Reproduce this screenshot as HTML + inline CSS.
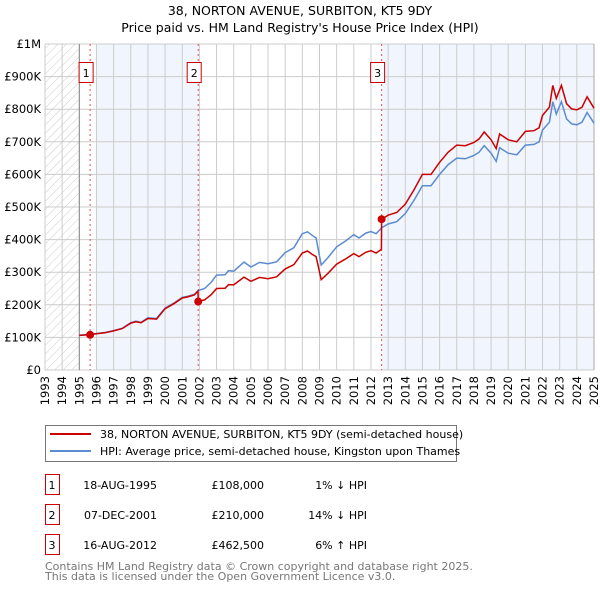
<!DOCTYPE html>
<html><head><meta charset="utf-8"><style>
body{margin:0;background:#fff;font-family:"DejaVu Sans","Liberation Sans",sans-serif;}
svg text{font-family:"DejaVu Sans","Liberation Sans",sans-serif;}
</style></head><body>
<svg id="chart" width="600" height="590" xmlns="http://www.w3.org/2000/svg">
<defs><pattern id="hatch" width="6" height="6" patternUnits="userSpaceOnUse" patternTransform="rotate(45)"><line x1="0" y1="0" x2="0" y2="6" stroke="#ccc" stroke-width="1"/></pattern></defs>
<text x="300" y="15" font-size="12.5" text-anchor="middle">38, NORTON AVENUE, SURBITON, KT5 9DY</text>
<text x="300" y="32" font-size="12.5" text-anchor="middle">Price paid vs. HM Land Registry's House Price Index (HPI)</text>
<g id="plot"></g>
<g>
<rect x="45.5" y="425.5" width="411" height="36" fill="#fff" stroke="#777"/>
<line x1="50" y1="434" x2="91" y2="434" stroke="#cc0000" stroke-width="2"/>
<text x="100" y="438" font-size="11">38, NORTON AVENUE, SURBITON, KT5 9DY (semi-detached house)</text>
<line x1="50" y1="451" x2="91" y2="451" stroke="#5b8bd0" stroke-width="2"/>
<text x="100" y="455" font-size="11">HPI: Average price, semi-detached house, Kingston upon Thames</text>
</g>
<g id="table" font-size="11"></g>
<text x="45" y="570" font-size="11" fill="#777">Contains HM Land Registry data © Crown copyright and database right 2025.</text>
<text x="45" y="580" font-size="11" fill="#777">This data is licensed under the Open Government Licence v3.0.</text>
</svg>
<script>
const hpiYears=[1995.0,1995.6,1996.0,1996.5,1997.0,1997.5,1998.0,1998.3,1998.6,1999.0,1999.5,2000.0,2000.5,2001.0,2001.3,2001.7,2001.93,2002.3,2002.7,2003.0,2003.5,2003.7,2004.0,2004.6,2005.0,2005.5,2006.0,2006.5,2007.0,2007.5,2008.0,2008.3,2008.6,2008.8,2009.1,2009.5,2010.0,2010.5,2011.0,2011.3,2011.7,2012.0,2012.3,2012.62,2013.0,2013.5,2014.0,2014.5,2015.0,2015.5,2016.0,2016.5,2017.0,2017.5,2018.0,2018.3,2018.6,2019.0,2019.3,2019.5,2020.0,2020.5,2021.0,2021.5,2021.8,2022.0,2022.4,2022.6,2022.8,2023.1,2023.4,2023.7,2024.0,2024.3,2024.6,2025.0];
const hpiValues=[107,109,112,115,121,128,145,150,146,160,158,190,205,223,226,232,244,250,270,291,292,305,303,331,316,330,326,332,360,375,418,424,412,405,322,345,378,395,415,405,420,425,418,436,448,455,480,520,565,565,600,630,650,648,658,668,688,665,640,682,665,660,690,692,700,736,760,823,785,823,770,755,752,760,790,757];
const priceYears=[1995.0,1995.6,1996.0,1996.5,1997.0,1997.5,1998.0,1998.3,1998.6,1999.0,1999.5,2000.0,2000.5,2001.0,2001.3,2001.7,2001.92,2001.93,2002.3,2002.7,2003.0,2003.5,2003.7,2004.0,2004.6,2005.0,2005.5,2006.0,2006.5,2007.0,2007.5,2008.0,2008.3,2008.6,2008.8,2009.1,2009.5,2010.0,2010.5,2011.0,2011.3,2011.7,2012.0,2012.3,2012.61,2012.62,2013.0,2013.5,2014.0,2014.5,2015.0,2015.5,2016.0,2016.5,2017.0,2017.5,2018.0,2018.3,2018.6,2019.0,2019.3,2019.5,2020.0,2020.5,2021.0,2021.5,2021.8,2022.0,2022.4,2022.6,2022.8,2023.1,2023.4,2023.7,2024.0,2024.3,2024.6,2025.0];
const priceValues=[106,108,111,114,120,127,144,148,145,158,156,188,203,221,224,230,242,210,215,232,250,251,262,261,285,272,284,280,286,310,323,359,365,354,348,277,297,325,340,357,348,361,366,359,370,462.5,475,483,509,552,600,600,637,668,690,688,698,709,730,706,679,724,706,700,732,734,743,781,806,873,833,873,817,801,798,806,838,803];
const saleYears=[1995.63,2001.93,2012.62];
const saleLabels=["1","2","3"];
const salePrices=[108,210,462.5];
const saleDates=["18-AUG-1995","07-DEC-2001","16-AUG-2012"];
const salePriceText=["£108,000","£210,000","£462,500"];
const saleDiffText=["1% ↓ HPI","14% ↓ HPI","6% ↑ HPI"];
const yTicks=[0,100,200,300,400,500,600,700,800,900,1000];
const yTickLabels=["£0","£100K","£200K","£300K","£400K","£500K","£600K","£700K","£800K","£900K","£1M"];
const xTicks=[1993,1994,1995,1996,1997,1998,1999,2000,2001,2002,2003,2004,2005,2006,2007,2008,2009,2010,2011,2012,2013,2014,2015,2016,2017,2018,2019,2020,2021,2022,2023,2024,2025];

const X0=45,X1=594,Y0=370,Y1=44;
const xs=y=>X0+(y-1993)/(2025-1993)*(X1-X0);
const ys=v=>Y0-v/1000*(Y0-Y1);
const NS="http://www.w3.org/2000/svg";
const plot=document.getElementById('plot');
function mk(tag,attrs,parent){const e=document.createElementNS(NS,tag);for(const k in attrs)e.setAttribute(k,attrs[k]);(parent||plot).appendChild(e);return e;}

let r=mk('rect',{x:xs(1993),y:Y1,width:xs(1995)-xs(1993),height:Y0-Y1,fill:'url(#hatch)'});


r=mk('rect',{x:xs(1996),y:Y1,width:xs(saleYears[1])-xs(1996),height:Y0-Y1,fill:'#eef3fc',opacity:0.8});


r=mk('rect',{x:xs(saleYears[2]),y:Y1,width:X1-xs(saleYears[2]),height:Y0-Y1,fill:'#eef3fc',opacity:0.8});



xTicks.forEach(t=>{
 const l=mk('line',{x1:xs(t),x2:xs(t),y1:Y1,y2:Y0,stroke:'#cccccc','stroke-width':1});
 
 
 const tx=mk('text',{x:0,y:0,'font-size':11.5,'text-anchor':'end',transform:`translate(${xs(t)+4},${Y0+6}) rotate(-90)`});
 tx.textContent=t;
 
 
});
yTicks.forEach((t,i)=>{
 const l=mk('line',{x1:X0,x2:X1,y1:ys(t),y2:ys(t),stroke:'#cccccc','stroke-width':1});
 
 
 const tx=mk('text',{x:41,y:ys(t)+4,'font-size':11.5,'text-anchor':'end'});
 tx.textContent=yTickLabels[i];
 
 
});
let bl=mk('line',{x1:xs(1995),x2:xs(1995),y1:Y1,y2:Y0,stroke:'#888','stroke-width':1});


bl=mk('line',{x1:X1,x2:X1,y1:Y1,y2:Y0,stroke:'#aaa','stroke-width':1});



saleYears.forEach((y,i)=>{
 const l=mk('line',{x1:xs(y),x2:xs(y),y1:Y1,y2:Y0,stroke:'#e05050','stroke-width':1,'stroke-dasharray':'2,3'});
 
 
 const b=mk('rect',{x:xs(y)-11,y:62.5,width:14,height:20,fill:'#fff',stroke:'#cc0000','stroke-width':1});
 
 
 const t=mk('text',{x:xs(y)-4,y:77,'font-size':11,'text-anchor':'middle'});
 t.textContent=saleLabels[i];
 
 
});

const hp=mk('path',{d:hpiYears.map((y,i)=>(i?'L':'M')+xs(y).toFixed(1)+','+ys(hpiValues[i]).toFixed(1)).join(''),fill:'none',stroke:'#5b8bd0','stroke-width':1.5});


const pp=mk('path',{d:priceYears.map((y,i)=>(i?'L':'M')+xs(y).toFixed(1)+','+ys(priceValues[i]).toFixed(1)).join(''),fill:'none',stroke:'#cc0000','stroke-width':1.5});


saleYears.forEach((y,i)=>{
 const c=mk('circle',{cx:xs(y),cy:ys(salePrices[i]),r:4,fill:'#cc0000'});
 
 
});

const tbl=document.getElementById('table');
saleYears.forEach((y,i)=>{
 const yy=485+i*30;
 const b=mk('rect',{x:45.5,y:yy-10.5,width:14,height:20,fill:'#fff',stroke:'#cc0000'},tbl);
 
 
 const cells=[[saleLabels[i],52,'middle'],[saleDates[i],157,'end'],[salePriceText[i],264,'end'],[saleDiffText[i],367,'end']];
 cells.forEach(c=>{
  const t=mk('text',{x:c[1],y:yy+4,'text-anchor':c[2]},tbl);
  t.textContent=c[0];
  
  
 });
});
</script>
</body></html>
